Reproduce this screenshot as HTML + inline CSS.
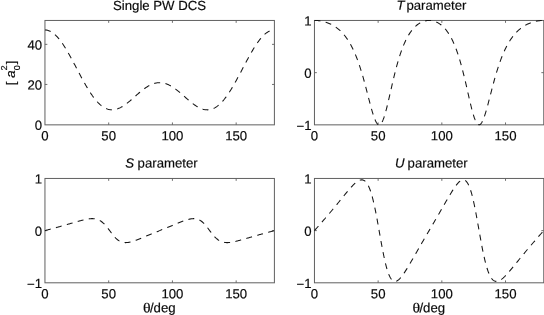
<!DOCTYPE html>
<html><head><meta charset="utf-8"><title>Single PW DCS</title>
<style>
html,body{margin:0;padding:0;background:#fff;}
body{width:544px;height:315px;overflow:hidden;}
svg{display:block;}
text{font-family:"Liberation Sans",sans-serif;font-size:13.2px;fill:#0a0a0a;stroke:#0a0a0a;stroke-width:0.18px;}
.c{fill:none;stroke:#151515;stroke-width:1.05;stroke-dasharray:5.95 5.4;}
</style></head><body>
<svg width="544" height="315" viewBox="0 0 544 315">
<rect width="544" height="315" fill="#fff"/>
<rect x="44.95" y="20.45" width="229.45" height="104.40" fill="none" stroke="#606060" stroke-width="1"/>
<path d="M108.69 124.85V122.45M108.69 20.45V22.85" stroke="#606060" stroke-width="0.9" fill="none"/>
<path d="M172.42 124.85V122.45M172.42 20.45V22.85" stroke="#606060" stroke-width="0.9" fill="none"/>
<path d="M236.16 124.85V122.45M236.16 20.45V22.85" stroke="#606060" stroke-width="0.9" fill="none"/>
<path d="M44.95 44.35H47.35M274.4 44.35H272.00" stroke="#606060" stroke-width="0.9" fill="none"/>
<path d="M44.95 84.45H47.35M274.4 84.45H272.00" stroke="#606060" stroke-width="0.9" fill="none"/>
<rect x="314.45" y="20.45" width="229.30" height="104.40" fill="none" stroke="#606060" stroke-width="1"/>
<path d="M378.14 124.85V122.45M378.14 20.45V22.85" stroke="#606060" stroke-width="0.9" fill="none"/>
<path d="M441.84 124.85V122.45M441.84 20.45V22.85" stroke="#606060" stroke-width="0.9" fill="none"/>
<path d="M505.53 124.85V122.45M505.53 20.45V22.85" stroke="#606060" stroke-width="0.9" fill="none"/>
<path d="M314.45 72.65H316.85M543.75 72.65H541.35" stroke="#606060" stroke-width="0.9" fill="none"/>
<rect x="44.95" y="178.45" width="229.45" height="104.35" fill="none" stroke="#606060" stroke-width="1"/>
<path d="M108.69 282.8V280.40M108.69 178.45V180.85" stroke="#606060" stroke-width="0.9" fill="none"/>
<path d="M172.42 282.8V280.40M172.42 178.45V180.85" stroke="#606060" stroke-width="0.9" fill="none"/>
<path d="M236.16 282.8V280.40M236.16 178.45V180.85" stroke="#606060" stroke-width="0.9" fill="none"/>
<path d="M44.95 230.62H47.35M274.4 230.62H272.00" stroke="#606060" stroke-width="0.9" fill="none"/>
<rect x="314.45" y="178.45" width="229.30" height="104.35" fill="none" stroke="#606060" stroke-width="1"/>
<path d="M378.14 282.8V280.40M378.14 178.45V180.85" stroke="#606060" stroke-width="0.9" fill="none"/>
<path d="M441.84 282.8V280.40M441.84 178.45V180.85" stroke="#606060" stroke-width="0.9" fill="none"/>
<path d="M505.53 282.8V280.40M505.53 178.45V180.85" stroke="#606060" stroke-width="0.9" fill="none"/>
<path d="M314.45 230.62H316.85M543.75 230.62H541.35" stroke="#606060" stroke-width="0.9" fill="none"/>

<path class="c" d="M44.95 29.95L45.59 29.97L46.22 30.02L46.86 30.12L47.50 30.26L48.14 30.43L48.77 30.64L49.41 30.89L50.05 31.17L50.69 31.50L51.32 31.86L51.96 32.26L52.60 32.69L53.24 33.16L53.87 33.66L54.51 34.20L55.15 34.77L55.79 35.38L56.42 36.02L57.06 36.69L57.70 37.40L58.33 38.13L58.97 38.89L59.61 39.69L60.25 40.51L60.88 41.36L61.52 42.24L62.16 43.14L62.80 44.07L63.43 45.02L64.07 46.00L64.71 47.00L65.35 48.02L65.98 49.06L66.62 50.11L67.26 51.19L67.89 52.28L68.53 53.39L69.17 54.52L69.81 55.66L70.44 56.81L71.08 57.97L71.72 59.14L72.36 60.32L72.99 61.51L73.63 62.71L74.27 63.91L74.91 65.12L75.54 66.33L76.18 67.54L76.82 68.75L77.46 69.97L78.09 71.18L78.73 72.39L79.37 73.59L80.00 74.79L80.64 75.99L81.28 77.18L81.92 78.36L82.55 79.53L83.19 80.69L83.83 81.84L84.47 82.98L85.10 84.10L85.74 85.21L86.38 86.30L87.02 87.38L87.65 88.44L88.29 89.49L88.93 90.51L89.57 91.52L90.20 92.50L90.84 93.46L91.48 94.40L92.11 95.32L92.75 96.21L93.39 97.08L94.03 97.93L94.66 98.74L95.30 99.54L95.94 100.30L96.58 101.04L97.21 101.75L97.85 102.43L98.49 103.09L99.13 103.71L99.76 104.31L100.40 104.87L101.04 105.41L101.68 105.91L102.31 106.39L102.95 106.83L103.59 107.25L104.22 107.63L104.86 107.99L105.50 108.31L106.14 108.60L106.77 108.86L107.41 109.09L108.05 109.29L108.69 109.46L109.32 109.60L109.96 109.71L110.60 109.79L111.24 109.84L111.87 109.86L112.51 109.85L113.15 109.82L113.78 109.75L114.42 109.66L115.06 109.55L115.70 109.41L116.33 109.24L116.97 109.04L117.61 108.83L118.25 108.59L118.88 108.32L119.52 108.04L120.16 107.73L120.80 107.40L121.43 107.05L122.07 106.68L122.71 106.30L123.35 105.89L123.98 105.47L124.62 105.03L125.26 104.58L125.89 104.12L126.53 103.64L127.17 103.15L127.81 102.64L128.44 102.13L129.08 101.61L129.72 101.08L130.36 100.54L130.99 99.99L131.63 99.44L132.27 98.88L132.91 98.32L133.54 97.76L134.18 97.20L134.82 96.63L135.46 96.07L136.09 95.50L136.73 94.94L137.37 94.38L138.00 93.82L138.64 93.27L139.28 92.73L139.92 92.19L140.55 91.66L141.19 91.14L141.83 90.62L142.47 90.12L143.10 89.63L143.74 89.15L144.38 88.68L145.02 88.22L145.65 87.78L146.29 87.35L146.93 86.94L147.57 86.54L148.20 86.16L148.84 85.80L149.48 85.45L150.11 85.13L150.75 84.82L151.39 84.53L152.03 84.26L152.66 84.01L153.30 83.78L153.94 83.57L154.58 83.38L155.21 83.22L155.85 83.07L156.49 82.95L157.13 82.85L157.76 82.77L158.40 82.72L159.04 82.68L159.68 82.67L160.31 82.68L160.95 82.72L161.59 82.77L162.22 82.85L162.86 82.95L163.50 83.07L164.14 83.22L164.77 83.38L165.41 83.57L166.05 83.78L166.69 84.01L167.32 84.26L167.96 84.53L168.60 84.82L169.24 85.13L169.87 85.45L170.51 85.80L171.15 86.16L171.78 86.54L172.42 86.94L173.06 87.35L173.70 87.78L174.33 88.22L174.97 88.68L175.61 89.15L176.25 89.63L176.88 90.12L177.52 90.62L178.16 91.14L178.80 91.66L179.43 92.19L180.07 92.73L180.71 93.27L181.35 93.82L181.98 94.38L182.62 94.94L183.26 95.50L183.89 96.07L184.53 96.63L185.17 97.20L185.81 97.76L186.44 98.32L187.08 98.88L187.72 99.44L188.36 99.99L188.99 100.54L189.63 101.08L190.27 101.61L190.91 102.13L191.54 102.64L192.18 103.15L192.82 103.64L193.46 104.12L194.09 104.58L194.73 105.03L195.37 105.47L196.00 105.89L196.64 106.30L197.28 106.68L197.92 107.05L198.55 107.40L199.19 107.73L199.83 108.04L200.47 108.32L201.10 108.59L201.74 108.83L202.38 109.04L203.02 109.24L203.65 109.41L204.29 109.55L204.93 109.66L205.56 109.75L206.20 109.82L206.84 109.85L207.48 109.86L208.11 109.84L208.75 109.79L209.39 109.71L210.03 109.60L210.66 109.46L211.30 109.29L211.94 109.09L212.58 108.86L213.21 108.60L213.85 108.31L214.49 107.99L215.13 107.63L215.76 107.25L216.40 106.83L217.04 106.39L217.67 105.91L218.31 105.41L218.95 104.87L219.59 104.31L220.22 103.71L220.86 103.09L221.50 102.43L222.14 101.75L222.77 101.04L223.41 100.30L224.05 99.54L224.69 98.74L225.32 97.93L225.96 97.08L226.60 96.21L227.24 95.32L227.87 94.40L228.51 93.46L229.15 92.50L229.78 91.52L230.42 90.51L231.06 89.49L231.70 88.44L232.33 87.38L232.97 86.30L233.61 85.21L234.25 84.10L234.88 82.98L235.52 81.84L236.16 80.69L236.80 79.53L237.43 78.36L238.07 77.18L238.71 75.99L239.35 74.79L239.98 73.59L240.62 72.39L241.26 71.18L241.89 69.97L242.53 68.75L243.17 67.54L243.81 66.33L244.44 65.12L245.08 63.91L245.72 62.71L246.36 61.51L246.99 60.32L247.63 59.14L248.27 57.97L248.91 56.81L249.54 55.66L250.18 54.52L250.82 53.39L251.45 52.28L252.09 51.19L252.73 50.11L253.37 49.06L254.00 48.02L254.64 47.00L255.28 46.00L255.92 45.02L256.55 44.07L257.19 43.14L257.83 42.24L258.47 41.36L259.10 40.51L259.74 39.69L260.38 38.89L261.02 38.13L261.65 37.40L262.29 36.69L262.93 36.02L263.56 35.38L264.20 34.77L264.84 34.20L265.48 33.66L266.11 33.16L266.75 32.69L267.39 32.26L268.03 31.86L268.66 31.50L269.30 31.17L269.94 30.89L270.58 30.64L271.21 30.43L271.85 30.26L272.49 30.12L273.13 30.02L273.76 29.97L274.40 29.95"/>
<path class="c" d="M314.45 20.45L315.09 20.46L315.72 20.47L316.36 20.50L317.00 20.53L317.63 20.58L318.27 20.64L318.91 20.71L319.55 20.79L320.18 20.88L320.82 20.99L321.46 21.10L322.09 21.22L322.73 21.36L323.37 21.51L324.00 21.67L324.64 21.84L325.28 22.03L325.91 22.23L326.55 22.44L327.19 22.66L327.83 22.90L328.46 23.15L329.10 23.41L329.74 23.69L330.37 23.98L331.01 24.29L331.65 24.62L332.28 24.96L332.92 25.31L333.56 25.69L334.20 26.08L334.83 26.49L335.47 26.92L336.11 27.36L336.74 27.83L337.38 28.32L338.02 28.82L338.65 29.35L339.29 29.91L339.93 30.48L340.56 31.08L341.20 31.71L341.84 32.36L342.48 33.04L343.11 33.74L343.75 34.48L344.39 35.24L345.02 36.04L345.66 36.87L346.30 37.73L346.93 38.63L347.57 39.56L348.21 40.53L348.84 41.54L349.48 42.60L350.12 43.69L350.76 44.82L351.39 46.00L352.03 47.23L352.67 48.51L353.30 49.83L353.94 51.21L354.58 52.63L355.21 54.12L355.85 55.65L356.49 57.25L357.13 58.90L357.76 60.61L358.40 62.38L359.04 64.21L359.67 66.10L360.31 68.05L360.95 70.07L361.58 72.14L362.22 74.27L362.86 76.46L363.49 78.70L364.13 81.00L364.77 83.34L365.41 85.72L366.04 88.14L366.68 90.58L367.32 93.05L367.95 95.53L368.59 98.01L369.23 100.48L369.86 102.92L370.50 105.32L371.14 107.67L371.77 109.94L372.41 112.12L373.05 114.19L373.69 116.14L374.32 117.93L374.96 119.55L375.60 120.99L376.23 122.22L376.87 123.23L377.51 124.01L378.14 124.54L378.78 124.81L379.42 124.82L380.06 124.57L380.69 124.04L381.33 123.26L381.97 122.23L382.60 120.94L383.24 119.43L383.88 117.71L384.51 115.78L385.15 113.68L385.79 111.41L386.42 109.01L387.06 106.50L387.70 103.88L388.34 101.20L388.97 98.45L389.61 95.67L390.25 92.87L390.88 90.06L391.52 87.26L392.16 84.49L392.79 81.74L393.43 79.04L394.07 76.39L394.70 73.80L395.34 71.27L395.98 68.81L396.62 66.42L397.25 64.10L397.89 61.86L398.53 59.70L399.16 57.62L399.80 55.61L400.44 53.68L401.07 51.82L401.71 50.04L402.35 48.33L402.99 46.70L403.62 45.13L404.26 43.63L404.90 42.20L405.53 40.84L406.17 39.53L406.81 38.29L407.44 37.10L408.08 35.97L408.72 34.89L409.35 33.87L409.99 32.89L410.63 31.97L411.27 31.09L411.90 30.25L412.54 29.46L413.18 28.71L413.81 28.01L414.45 27.34L415.09 26.70L415.72 26.11L416.36 25.55L417.00 25.02L417.63 24.53L418.27 24.07L418.91 23.64L419.55 23.24L420.18 22.87L420.82 22.52L421.46 22.21L422.09 21.92L422.73 21.66L423.37 21.43L424.00 21.22L424.64 21.04L425.28 20.88L425.92 20.75L426.55 20.64L427.19 20.56L427.83 20.50L428.46 20.46L429.10 20.45L429.74 20.46L430.37 20.50L431.01 20.56L431.65 20.64L432.28 20.75L432.92 20.88L433.56 21.04L434.20 21.22L434.83 21.43L435.47 21.66L436.11 21.92L436.74 22.21L437.38 22.52L438.02 22.87L438.65 23.24L439.29 23.64L439.93 24.07L440.56 24.53L441.20 25.02L441.84 25.55L442.48 26.11L443.11 26.70L443.75 27.34L444.39 28.01L445.02 28.71L445.66 29.46L446.30 30.25L446.93 31.09L447.57 31.97L448.21 32.89L448.85 33.87L449.48 34.89L450.12 35.97L450.76 37.10L451.39 38.29L452.03 39.53L452.67 40.84L453.30 42.20L453.94 43.63L454.58 45.13L455.21 46.70L455.85 48.33L456.49 50.04L457.13 51.82L457.76 53.68L458.40 55.61L459.04 57.62L459.67 59.70L460.31 61.86L460.95 64.10L461.58 66.42L462.22 68.81L462.86 71.27L463.50 73.80L464.13 76.39L464.77 79.04L465.41 81.74L466.04 84.49L466.68 87.26L467.32 90.06L467.95 92.87L468.59 95.67L469.23 98.45L469.86 101.20L470.50 103.88L471.14 106.50L471.78 109.01L472.41 111.41L473.05 113.68L473.69 115.78L474.32 117.71L474.96 119.43L475.60 120.94L476.23 122.23L476.87 123.26L477.51 124.04L478.14 124.57L478.78 124.82L479.42 124.81L480.06 124.54L480.69 124.01L481.33 123.23L481.97 122.22L482.60 120.99L483.24 119.55L483.88 117.93L484.51 116.14L485.15 114.19L485.79 112.12L486.42 109.94L487.06 107.67L487.70 105.32L488.34 102.92L488.97 100.48L489.61 98.01L490.25 95.53L490.88 93.05L491.52 90.58L492.16 88.14L492.79 85.72L493.43 83.34L494.07 81.00L494.71 78.70L495.34 76.46L495.98 74.27L496.62 72.14L497.25 70.07L497.89 68.05L498.53 66.10L499.16 64.21L499.80 62.38L500.44 60.61L501.07 58.90L501.71 57.25L502.35 55.65L502.99 54.12L503.62 52.63L504.26 51.21L504.90 49.83L505.53 48.51L506.17 47.23L506.81 46.00L507.44 44.82L508.08 43.69L508.72 42.60L509.36 41.54L509.99 40.53L510.63 39.56L511.27 38.63L511.90 37.73L512.54 36.87L513.18 36.04L513.81 35.24L514.45 34.48L515.09 33.74L515.72 33.04L516.36 32.36L517.00 31.71L517.64 31.08L518.27 30.48L518.91 29.91L519.55 29.35L520.18 28.82L520.82 28.32L521.46 27.83L522.09 27.36L522.73 26.92L523.37 26.49L524.00 26.08L524.64 25.69L525.28 25.31L525.92 24.96L526.55 24.62L527.19 24.29L527.83 23.98L528.46 23.69L529.10 23.41L529.74 23.15L530.37 22.90L531.01 22.66L531.65 22.44L532.28 22.23L532.92 22.03L533.56 21.84L534.20 21.67L534.83 21.51L535.47 21.36L536.11 21.22L536.74 21.10L537.38 20.99L538.02 20.88L538.65 20.79L539.29 20.71L539.93 20.64L540.57 20.58L541.20 20.53L541.84 20.50L542.48 20.47L543.11 20.46L543.75 20.45"/>
<path class="c" d="M44.95 230.62L45.59 230.45L46.22 230.28L46.86 230.11L47.50 229.94L48.14 229.77L48.77 229.60L49.41 229.43L50.05 229.25L50.69 229.08L51.32 228.91L51.96 228.74L52.60 228.56L53.24 228.39L53.87 228.22L54.51 228.04L55.15 227.87L55.79 227.70L56.42 227.52L57.06 227.35L57.70 227.17L58.33 226.99L58.97 226.82L59.61 226.64L60.25 226.46L60.88 226.28L61.52 226.10L62.16 225.93L62.80 225.75L63.43 225.57L64.07 225.38L64.71 225.20L65.35 225.02L65.98 224.84L66.62 224.66L67.26 224.47L67.89 224.29L68.53 224.10L69.17 223.92L69.81 223.74L70.44 223.55L71.08 223.36L71.72 223.18L72.36 222.99L72.99 222.81L73.63 222.62L74.27 222.44L74.91 222.25L75.54 222.07L76.18 221.89L76.82 221.70L77.46 221.52L78.09 221.34L78.73 221.16L79.37 220.99L80.00 220.81L80.64 220.64L81.28 220.47L81.92 220.30L82.55 220.14L83.19 219.98L83.83 219.83L84.47 219.68L85.10 219.54L85.74 219.40L86.38 219.28L87.02 219.16L87.65 219.05L88.29 218.95L88.93 218.86L89.57 218.78L90.20 218.72L90.84 218.67L91.48 218.64L92.11 218.62L92.75 218.63L93.39 218.65L94.03 218.70L94.66 218.78L95.30 218.88L95.94 219.00L96.58 219.16L97.21 219.35L97.85 219.58L98.49 219.84L99.13 220.13L99.76 220.47L100.40 220.85L101.04 221.26L101.68 221.72L102.31 222.23L102.95 222.77L103.59 223.36L104.22 223.99L104.86 224.65L105.50 225.36L106.14 226.10L106.77 226.87L107.41 227.66L108.05 228.48L108.69 229.32L109.32 230.17L109.96 231.02L110.60 231.88L111.24 232.73L111.87 233.56L112.51 234.38L113.15 235.18L113.78 235.95L114.42 236.69L115.06 237.39L115.70 238.05L116.33 238.66L116.97 239.24L117.61 239.76L118.25 240.24L118.88 240.67L119.52 241.06L120.16 241.40L120.80 241.69L121.43 241.94L122.07 242.15L122.71 242.32L123.35 242.44L123.98 242.54L124.62 242.60L125.26 242.62L125.89 242.62L126.53 242.60L127.17 242.54L127.81 242.47L128.44 242.37L129.08 242.25L129.72 242.12L130.36 241.97L130.99 241.81L131.63 241.63L132.27 241.44L132.91 241.25L133.54 241.04L134.18 240.82L134.82 240.60L135.46 240.37L136.09 240.14L136.73 239.90L137.37 239.66L138.00 239.41L138.64 239.16L139.28 238.91L139.92 238.66L140.55 238.40L141.19 238.15L141.83 237.89L142.47 237.63L143.10 237.37L143.74 237.11L144.38 236.84L145.02 236.58L145.65 236.32L146.29 236.06L146.93 235.80L147.57 235.54L148.20 235.28L148.84 235.01L149.48 234.75L150.11 234.49L150.75 234.23L151.39 233.97L152.03 233.71L152.66 233.46L153.30 233.20L153.94 232.94L154.58 232.68L155.21 232.42L155.85 232.17L156.49 231.91L157.13 231.65L157.76 231.40L158.40 231.14L159.04 230.88L159.68 230.62L160.31 230.37L160.95 230.11L161.59 229.85L162.22 229.60L162.86 229.34L163.50 229.08L164.14 228.83L164.77 228.57L165.41 228.31L166.05 228.05L166.69 227.79L167.32 227.54L167.96 227.28L168.60 227.02L169.24 226.76L169.87 226.50L170.51 226.24L171.15 225.97L171.78 225.71L172.42 225.45L173.06 225.19L173.70 224.93L174.33 224.67L174.97 224.41L175.61 224.14L176.25 223.88L176.88 223.62L177.52 223.36L178.16 223.10L178.80 222.85L179.43 222.59L180.07 222.34L180.71 222.09L181.35 221.84L181.98 221.59L182.62 221.35L183.26 221.11L183.89 220.88L184.53 220.65L185.17 220.43L185.81 220.21L186.44 220.00L187.08 219.81L187.72 219.62L188.36 219.44L188.99 219.28L189.63 219.13L190.27 219.00L190.91 218.88L191.54 218.78L192.18 218.71L192.82 218.65L193.46 218.63L194.09 218.63L194.73 218.65L195.37 218.71L196.00 218.81L196.64 218.93L197.28 219.10L197.92 219.31L198.55 219.56L199.19 219.85L199.83 220.19L200.47 220.58L201.10 221.01L201.74 221.49L202.38 222.01L203.02 222.59L203.65 223.20L204.29 223.86L204.93 224.56L205.56 225.30L206.20 226.07L206.84 226.87L207.48 227.69L208.11 228.52L208.75 229.37L209.39 230.23L210.03 231.08L210.66 231.93L211.30 232.77L211.94 233.59L212.58 234.38L213.21 235.15L213.85 235.89L214.49 236.60L215.13 237.26L215.76 237.89L216.40 238.48L217.04 239.02L217.67 239.53L218.31 239.99L218.95 240.40L219.59 240.78L220.22 241.12L220.86 241.41L221.50 241.67L222.14 241.90L222.77 242.09L223.41 242.25L224.05 242.37L224.69 242.47L225.32 242.55L225.96 242.60L226.60 242.62L227.24 242.63L227.87 242.61L228.51 242.58L229.15 242.53L229.78 242.47L230.42 242.39L231.06 242.30L231.70 242.20L232.33 242.09L232.97 241.97L233.61 241.85L234.25 241.71L234.88 241.57L235.52 241.42L236.16 241.27L236.80 241.11L237.43 240.95L238.07 240.78L238.71 240.61L239.35 240.44L239.98 240.26L240.62 240.09L241.26 239.91L241.89 239.73L242.53 239.55L243.17 239.36L243.81 239.18L244.44 239.00L245.08 238.81L245.72 238.63L246.36 238.44L246.99 238.26L247.63 238.07L248.27 237.89L248.91 237.70L249.54 237.51L250.18 237.33L250.82 237.15L251.45 236.96L252.09 236.78L252.73 236.59L253.37 236.41L254.00 236.23L254.64 236.05L255.28 235.87L255.92 235.68L256.55 235.50L257.19 235.32L257.83 235.15L258.47 234.97L259.10 234.79L259.74 234.61L260.38 234.43L261.02 234.26L261.65 234.08L262.29 233.90L262.93 233.73L263.56 233.55L264.20 233.38L264.84 233.21L265.48 233.03L266.11 232.86L266.75 232.69L267.39 232.51L268.03 232.34L268.66 232.17L269.30 232.00L269.94 231.82L270.58 231.65L271.21 231.48L271.85 231.31L272.49 231.14L273.13 230.97L273.76 230.80L274.40 230.62"/>
<path class="c" d="M314.45 230.62L315.09 229.90L315.72 229.18L316.36 228.45L317.00 227.73L317.63 227.00L318.27 226.28L318.91 225.55L319.55 224.83L320.18 224.10L320.82 223.37L321.46 222.64L322.09 221.91L322.73 221.18L323.37 220.44L324.00 219.71L324.64 218.97L325.28 218.23L325.91 217.49L326.55 216.75L327.19 216.01L327.83 215.26L328.46 214.52L329.10 213.77L329.74 213.01L330.37 212.26L331.01 211.50L331.65 210.75L332.28 209.98L332.92 209.22L333.56 208.46L334.20 207.69L334.83 206.92L335.47 206.15L336.11 205.37L336.74 204.60L337.38 203.82L338.02 203.04L338.65 202.26L339.29 201.48L339.93 200.70L340.56 199.91L341.20 199.13L341.84 198.34L342.48 197.56L343.11 196.77L343.75 195.99L344.39 195.21L345.02 194.43L345.66 193.66L346.30 192.88L346.93 192.11L347.57 191.35L348.21 190.60L348.84 189.85L349.48 189.11L350.12 188.38L350.76 187.67L351.39 186.96L352.03 186.28L352.67 185.61L353.30 184.96L353.94 184.33L354.58 183.73L355.21 183.16L355.85 182.62L356.49 182.11L357.13 181.64L357.76 181.22L358.40 180.84L359.04 180.52L359.67 180.25L360.31 180.05L360.95 179.91L361.58 179.85L362.22 179.87L362.86 179.98L363.49 180.19L364.13 180.50L364.77 180.92L365.41 181.47L366.04 182.14L366.68 182.94L367.32 183.89L367.95 184.99L368.59 186.24L369.23 187.67L369.86 189.26L370.50 191.02L371.14 192.97L371.77 195.09L372.41 197.40L373.05 199.88L373.69 202.54L374.32 205.36L374.96 208.34L375.60 211.47L376.23 214.72L376.87 218.09L377.51 221.56L378.14 225.10L378.78 228.69L379.42 232.30L380.06 235.92L380.69 239.51L381.33 243.05L381.97 246.52L382.60 249.89L383.24 253.15L383.88 256.26L384.51 259.23L385.15 262.02L385.79 264.63L386.42 267.05L387.06 269.28L387.70 271.31L388.34 273.14L388.97 274.76L389.61 276.20L390.25 277.44L390.88 278.49L391.52 279.37L392.16 280.08L392.79 280.62L393.43 281.02L394.07 281.27L394.70 281.39L395.34 281.38L395.98 281.26L396.62 281.04L397.25 280.72L397.89 280.30L398.53 279.81L399.16 279.25L399.80 278.62L400.44 277.93L401.07 277.18L401.71 276.39L402.35 275.55L402.99 274.68L403.62 273.77L404.26 272.83L404.90 271.87L405.53 270.88L406.17 269.87L406.81 268.85L407.44 267.81L408.08 266.75L408.72 265.69L409.35 264.61L409.99 263.53L410.63 262.44L411.27 261.35L411.90 260.25L412.54 259.15L413.18 258.04L413.81 256.94L414.45 255.83L415.09 254.72L415.72 253.62L416.36 252.51L417.00 251.40L417.63 250.30L418.27 249.19L418.91 248.09L419.55 246.99L420.18 245.89L420.82 244.79L421.46 243.70L422.09 242.60L422.73 241.51L423.37 240.41L424.00 239.32L424.64 238.23L425.28 237.14L425.92 236.06L426.55 234.97L427.19 233.88L427.83 232.80L428.46 231.71L429.10 230.62L429.74 229.54L430.37 228.45L431.01 227.37L431.65 226.28L432.28 225.19L432.92 224.11L433.56 223.02L434.20 221.93L434.83 220.84L435.47 219.74L436.11 218.65L436.74 217.55L437.38 216.46L438.02 215.36L438.65 214.26L439.29 213.16L439.93 212.06L440.56 210.95L441.20 209.85L441.84 208.74L442.48 207.63L443.11 206.53L443.75 205.42L444.39 204.31L445.02 203.21L445.66 202.10L446.30 201.00L446.93 199.90L447.57 198.81L448.21 197.72L448.85 196.64L449.48 195.56L450.12 194.50L450.76 193.44L451.39 192.40L452.03 191.38L452.67 190.37L453.30 189.38L453.94 188.42L454.58 187.48L455.21 186.57L455.85 185.70L456.49 184.86L457.13 184.07L457.76 183.32L458.40 182.63L459.04 182.00L459.67 181.44L460.31 180.95L460.95 180.53L461.58 180.21L462.22 179.99L462.86 179.87L463.50 179.86L464.13 179.98L464.77 180.23L465.41 180.63L466.04 181.17L466.68 181.88L467.32 182.76L467.95 183.81L468.59 185.05L469.23 186.49L469.86 188.11L470.50 189.94L471.14 191.97L471.78 194.20L472.41 196.62L473.05 199.23L473.69 202.02L474.32 204.99L474.96 208.10L475.60 211.36L476.23 214.73L476.87 218.20L477.51 221.74L478.14 225.33L478.78 228.95L479.42 232.56L480.06 236.15L480.69 239.69L481.33 243.16L481.97 246.53L482.60 249.78L483.24 252.91L483.88 255.89L484.51 258.71L485.15 261.37L485.79 263.85L486.42 266.16L487.06 268.28L487.70 270.23L488.34 271.99L488.97 273.58L489.61 275.01L490.25 276.26L490.88 277.36L491.52 278.31L492.16 279.11L492.79 279.78L493.43 280.33L494.07 280.75L494.71 281.06L495.34 281.27L495.98 281.38L496.62 281.40L497.25 281.34L497.89 281.20L498.53 281.00L499.16 280.73L499.80 280.41L500.44 280.03L501.07 279.61L501.71 279.14L502.35 278.63L502.99 278.09L503.62 277.52L504.26 276.92L504.90 276.29L505.53 275.64L506.17 274.97L506.81 274.29L507.44 273.58L508.08 272.87L508.72 272.14L509.36 271.40L509.99 270.65L510.63 269.90L511.27 269.14L511.90 268.37L512.54 267.59L513.18 266.82L513.81 266.04L514.45 265.26L515.09 264.48L515.72 263.69L516.36 262.91L517.00 262.12L517.64 261.34L518.27 260.55L518.91 259.77L519.55 258.99L520.18 258.21L520.82 257.43L521.46 256.65L522.09 255.88L522.73 255.10L523.37 254.33L524.00 253.56L524.64 252.79L525.28 252.03L525.92 251.27L526.55 250.50L527.19 249.75L527.83 248.99L528.46 248.24L529.10 247.48L529.74 246.73L530.37 245.99L531.01 245.24L531.65 244.50L532.28 243.76L532.92 243.02L533.56 242.28L534.20 241.54L534.83 240.81L535.47 240.07L536.11 239.34L536.74 238.61L537.38 237.88L538.02 237.15L538.65 236.42L539.29 235.70L539.93 234.97L540.57 234.25L541.20 233.52L541.84 232.80L542.48 232.07L543.11 231.35L543.75 230.62"/>

<text x="44.95" y="140.3" transform="rotate(0.03 44.95 140.3)" text-anchor="middle" >0</text>
<text x="108.69" y="140.3" transform="rotate(0.03 108.69 140.3)" text-anchor="middle" >50</text>
<text x="172.42" y="140.3" transform="rotate(0.03 172.42 140.3)" text-anchor="middle" >100</text>
<text x="236.16" y="140.3" transform="rotate(0.03 236.16 140.3)" text-anchor="middle" >150</text>
<text x="44.95" y="298.3" transform="rotate(0.03 44.95 298.3)" text-anchor="middle" >0</text>
<text x="108.69" y="298.3" transform="rotate(0.03 108.69 298.3)" text-anchor="middle" >50</text>
<text x="172.42" y="298.3" transform="rotate(0.03 172.42 298.3)" text-anchor="middle" >100</text>
<text x="236.16" y="298.3" transform="rotate(0.03 236.16 298.3)" text-anchor="middle" >150</text>
<text x="314.45" y="140.3" transform="rotate(0.03 314.45 140.3)" text-anchor="middle" >0</text>
<text x="378.14" y="140.3" transform="rotate(0.03 378.14 140.3)" text-anchor="middle" >50</text>
<text x="441.84" y="140.3" transform="rotate(0.03 441.84 140.3)" text-anchor="middle" >100</text>
<text x="505.53" y="140.3" transform="rotate(0.03 505.53 140.3)" text-anchor="middle" >150</text>
<text x="314.45" y="298.3" transform="rotate(0.03 314.45 298.3)" text-anchor="middle" >0</text>
<text x="378.14" y="298.3" transform="rotate(0.03 378.14 298.3)" text-anchor="middle" >50</text>
<text x="441.84" y="298.3" transform="rotate(0.03 441.84 298.3)" text-anchor="middle" >100</text>
<text x="505.53" y="298.3" transform="rotate(0.03 505.53 298.3)" text-anchor="middle" >150</text>
<text x="42.2" y="129.85" transform="rotate(0.03 42.2 129.85)" text-anchor="end" >0</text>
<text x="42.2" y="89.55" transform="rotate(0.03 42.2 89.55)" text-anchor="end" >20</text>
<text x="42.2" y="49.45" transform="rotate(0.03 42.2 49.45)" text-anchor="end" >40</text>
<text x="311.65" y="129.95" transform="rotate(0.03 311.65 129.95)" text-anchor="end" ><tspan dy="0.8">−</tspan><tspan dy="-0.8">1</tspan></text>
<text x="311.65" y="77.75" transform="rotate(0.03 311.65 77.75)" text-anchor="end" >0</text>
<text x="311.65" y="25.55" transform="rotate(0.03 311.65 25.55)" text-anchor="end" >1</text>
<text x="42.15" y="287.90" transform="rotate(0.03 42.15 287.90)" text-anchor="end" ><tspan dy="0.8">−</tspan><tspan dy="-0.8">1</tspan></text>
<text x="42.15" y="235.72" transform="rotate(0.03 42.15 235.72)" text-anchor="end" >0</text>
<text x="42.15" y="183.55" transform="rotate(0.03 42.15 183.55)" text-anchor="end" >1</text>
<text x="311.65" y="287.90" transform="rotate(0.03 311.65 287.90)" text-anchor="end" ><tspan dy="0.8">−</tspan><tspan dy="-0.8">1</tspan></text>
<text x="311.65" y="235.72" transform="rotate(0.03 311.65 235.72)" text-anchor="end" >0</text>
<text x="311.65" y="183.55" transform="rotate(0.03 311.65 183.55)" text-anchor="end" >1</text>
<text x="159.55" y="9.9" transform="rotate(0.03 159.55 9.9)" text-anchor="middle" >Single PW DCS</text>
<text x="396.5" y="9.7" transform="rotate(0.03 396.5 9.7)" font-style="italic">T</text>
<text x="406.4" y="9.7" transform="rotate(0.03 406.4 9.7)">parameter</text>
<text x="125.2" y="167.5" transform="rotate(0.03 125.2 167.5)" font-style="italic">S</text>
<text x="137.6" y="167.5" transform="rotate(0.03 137.6 167.5)">parameter</text>
<text x="395.0" y="167.5" transform="rotate(0.03 395.0 167.5)" font-style="italic">U</text>
<text x="407.6" y="167.5" transform="rotate(0.03 407.6 167.5)">parameter</text>
<text x="0" y="0" transform="translate(150.60 312.3) rotate(0.03) scale(1.17 1)" text-anchor="end" style="font-family:'Liberation Serif',serif;font-size:13.6px">θ</text>
<text x="149.90" y="312.3" transform="rotate(0.03 150.00 312.3)">/deg</text>
<text x="0" y="0" transform="translate(420.10 312.3) rotate(0.03) scale(1.17 1)" text-anchor="end" style="font-family:'Liberation Serif',serif;font-size:13.6px">θ</text>
<text x="419.40" y="312.3" transform="rotate(0.03 419.50 312.3)">/deg</text>
<g transform="translate(14.9,85.2) rotate(-90)"><text x="0" y="0">[ <tspan font-style="italic">a</tspan></text><text x="14.6" y="-7.9" style="font-size:9.2px">2</text><text x="15.0" y="4.9" style="font-size:9.2px">0</text><text x="21.0" y="0">]</text></g>

</svg>
</body></html>
